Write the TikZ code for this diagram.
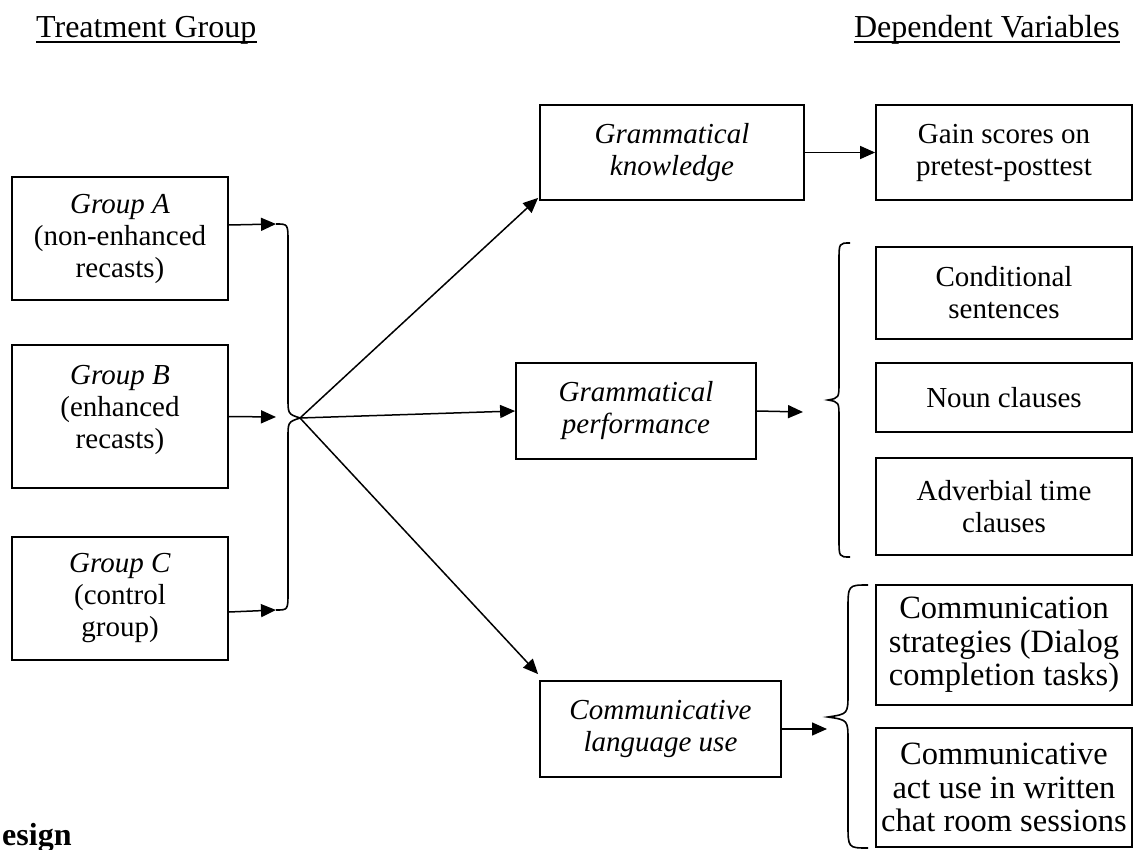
\documentclass[tikz,border=0pt]{standalone}
\usepackage{fontspec}
\setmainfont{Liberation Serif}
\usetikzlibrary{arrows.meta}
\newcommand\myboxfont{\fontsize{29}{32}\selectfont}
\newcommand\mybigboxfont{\fontsize{32.5}{33.5}\selectfont}
\newcommand\myhdrfont{\fontsize{32}{36}\selectfont}
\begin{document}
\begin{tikzpicture}[x=1pt,y=-1pt,
  box/.style={draw, line width=1.8pt, inner sep=0pt, align=center, font=\myboxfont},
  arr/.style={line width=1.5pt, -{Triangle[length=15pt,width=13pt]}},
  bracepath/.style={line width=1.6pt},
  hdr/.style={inner sep=0pt, font=\myhdrfont}]
\useasboundingbox (0,0) rectangle (1135,850);

% headers
\node[hdr, anchor=base west] (T1) at (36,38) {Treatment Group};
\node[hdr, anchor=base east] (T2) at (1120,38) {Dependent Variables};
\draw[line width=1.5pt] ([yshift=-4pt]T1.base west) -- ([yshift=-4pt]T1.base east);
\draw[line width=1.5pt] ([yshift=-4pt]T2.base west) -- ([yshift=-4pt]T2.base east);

% treatment boxes
\node[box, minimum width=216pt, minimum height=123pt] (A) at (120,238.5)
  {\textit{Group A}\\(non-enhanced\\recasts)};
\node[box, minimum width=216pt, minimum height=143pt] (B) at (120,416.5) {};
\node[inner sep=0pt, align=center, font=\myboxfont, anchor=north] (Btext) at (120,365)
  {\textit{Group B}\\(enhanced\\recasts)};
\node[box, minimum width=216pt, minimum height=123pt] (C) at (120,598.5)
  {\textit{Group C}\\(control\\group)};

% middle boxes
\node[box, minimum width=264pt, minimum height=95pt] (K) at (672,152.5)
  {\textit{Grammatical}\\\textit{knowledge}};
\node[box, minimum width=240pt, minimum height=96pt] (P) at (636,411)
  {\textit{Grammatical}\\\textit{performance}};
\node[box, minimum width=241pt, minimum height=96pt] (Cm) at (660.5,729)
  {\textit{Communicative}\\\textit{language use}};

% right boxes
\node[box, minimum width=256pt, minimum height=95pt] (G) at (1004,152.5)
  {Gain scores on\\pretest-posttest};
\node[box, minimum width=256pt, minimum height=92pt] (D1) at (1004,293)
  {Conditional\\sentences};
\node[box, minimum width=256pt, minimum height=69pt] (D2) at (1004,397.5)
  {Noun clauses};
\node[box, minimum width=256pt, minimum height=97pt] (D3) at (1004,506.5)
  {Adverbial time\\clauses};
\node[box, font=\mybigboxfont, minimum width=256pt, minimum height=120pt] (E1) at (1004,645)
  {Communication\\strategies (Dialog\\completion tasks)};
\node[box, font=\mybigboxfont, minimum width=256pt, minimum height=119pt] (E2) at (1004,787.5)
  {Communicative\\act use in written\\chat room sessions};

% left brace
\coordinate (LT) at (276,224);
\coordinate (LM) at (276,417);
\coordinate (LB) at (276,610);
\coordinate (tip) at (300,418);
\draw[bracepath] (LT) .. controls (288,224) .. (288,242) -- (288,398)
  .. controls (288,414) .. (tip) .. controls (288,422) .. (288,438) -- (288,592)
  .. controls (288,610) .. (LB);

\draw[arr] ([yshift=13.5pt]A.east) -- (LT);
\draw[arr] (B.east) -- (LM);
\draw[arr] ([yshift=-13.5pt]C.east) -- (LB);

\draw[arr] (tip) -- ([xshift=-1pt,yshift=3pt]K.south west);
\draw[arr] (tip) -- (P.west);
\draw[arr] (tip) -- ([xshift=-1pt,yshift=6pt]Cm.north west);

\draw[arr] (K.east) -- (G.west);

% right brace 1
\coordinate (R1tip) at (828,400);
\coordinate (R1in) at (803,412);
\draw[bracepath] (850,243) .. controls (839,243) .. (839,261) -- (839,382)
  .. controls (839,398) .. (R1tip) .. controls (839,402) .. (839,418) -- (839,539)
  .. controls (839,557) .. (850,557);
\draw[arr] (P.east) -- (R1in);

% right brace 2
\coordinate (R2tip) at (828,717);
\coordinate (R2in) at (827,729);
\draw[bracepath] (868,585) .. controls (848,585) .. (848,610) -- (848,693)
  .. controls (848,714) .. (R2tip) .. controls (848,720) .. (848,741) -- (848,824)
  .. controls (848,848) .. (868,848);
\draw[arr] (Cm.east) -- (R2in);

% cut-off heading
\node[inner sep=0pt, anchor=base west, font=\fontsize{32}{36}\selectfont\bfseries] (esign) at (2,845) {esign};
\end{tikzpicture}
\end{document}
